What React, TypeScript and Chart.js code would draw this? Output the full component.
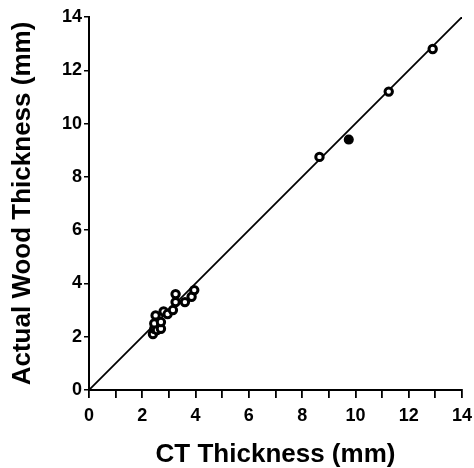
import React, { useEffect, useRef } from "react";
import { Chart, registerables } from "chart.js";

Chart.register(...registerables);

// CT-measured thickness (mm) vs actual wood thickness (mm), open circles
const ctThickness = [2.4, 2.45, 2.55, 2.7, 2.45, 2.7, 2.5, 2.8, 2.95, 3.15, 3.25, 3.25, 3.6, 3.85, 3.95, 8.65, 11.25, 12.9];
const woodThickness = [2.1, 2.3, 2.25, 2.3, 2.5, 2.55, 2.8, 2.95, 2.85, 3.0, 3.3, 3.6, 3.3, 3.5, 3.75, 8.75, 11.2, 12.8];
// filled circle
const ctThicknessFilled = [9.75];
const woodThicknessFilled = [9.4];
// line of identity
const identityX = [0, 14];
const identityY = [0, 14];

const xTitle = "CT Thickness (mm)";
const yTitle = "Actual Wood Thickness (mm)";
const axisMin = 0;
const axisMax = 14;

const FONT = "Arial, 'Liberation Sans', Helvetica, sans-serif";

export default function App() {
  const ref = useRef<HTMLCanvasElement | null>(null);

  useEffect(() => {
    if (!ref.current) return;
    const chart = new Chart(ref.current, {
      type: "scatter",
      data: {
        datasets: [
          {
            type: "scatter",
            data: ctThickness.map((x, i) => ({ x, y: woodThickness[i] })),
            pointRadius: 3.7,
            pointBorderWidth: 3,
            pointBorderColor: "#000",
            pointBackgroundColor: "#fff",
            order: 0,
          },
          {
            type: "scatter",
            data: ctThicknessFilled.map((x, i) => ({ x, y: woodThicknessFilled[i] })),
            pointRadius: 4.3,
            pointBorderWidth: 1.5,
            pointBorderColor: "#000",
            pointBackgroundColor: "#000",
            order: 0,
          },
          {
            type: "line",
            data: identityX.map((x, i) => ({ x, y: identityY[i] })),
            borderColor: "#000",
            borderWidth: 1.8,
            pointRadius: 0,
            showLine: true,
            fill: false,
            order: 1,
          },
        ],
      },
      options: {
        responsive: false,
        animation: false,
        devicePixelRatio: 1,
        layout: { padding: { top: 17, right: 12, left: 0, bottom: 0 } },
        plugins: { legend: { display: false }, tooltip: { enabled: false } },
        scales: {
          x: {
            type: "linear",
            min: axisMin,
            max: axisMax,
            afterFit: (s: any) => {
              s.height = 78;
            },
            border: { display: true, color: "#000", width: 2 },
            grid: {
              display: true,
              drawOnChartArea: false,
              drawTicks: true,
              tickLength: 8,
              color: "#000",
              lineWidth: 1.8,
            },
            ticks: {
              stepSize: 1,
              autoSkip: false,
              maxRotation: 0,
              color: "#000",
              padding: 1,
              font: { family: FONT, size: 18, weight: "bold", lineHeight: 1.9 },
              callback: (v: any) => (Number(v) % 2 === 0 ? String(v) : ""),
            },
            title: {
              display: true,
              text: xTitle,
              color: "#000",
              font: { family: FONT, size: 26, weight: "bold", lineHeight: 1 },
              padding: { top: 0, bottom: 0 },
            },
          },
          y: {
            type: "linear",
            min: axisMin,
            max: axisMax,
            afterFit: (s: any) => {
              s.width = 89;
            },
            border: { display: true, color: "#000", width: 2 },
            grid: {
              display: true,
              drawOnChartArea: false,
              drawTicks: true,
              tickLength: 5,
              color: "#000",
              lineWidth: 1.5,
            },
            ticks: {
              stepSize: 2,
              color: "#000",
              padding: 2,
              font: { family: FONT, size: 18, weight: "bold" },
            },
            title: {
              display: true,
              text: yTitle,
              color: "#000",
              font: { family: FONT, size: 26, weight: "bold", lineHeight: 1 },
              padding: { top: 10, bottom: 0 },
            },
          },
        },
      },
    } as any);
    return () => chart.destroy();
  }, []);

  return (
    <div style={{ position: "absolute", left: 0, top: 0, width: 474, height: 468, background: "#fff" }}>
      <canvas ref={ref} width={474} height={468} style={{ display: "block", width: 474, height: 468 }} />
    </div>
  );
}
